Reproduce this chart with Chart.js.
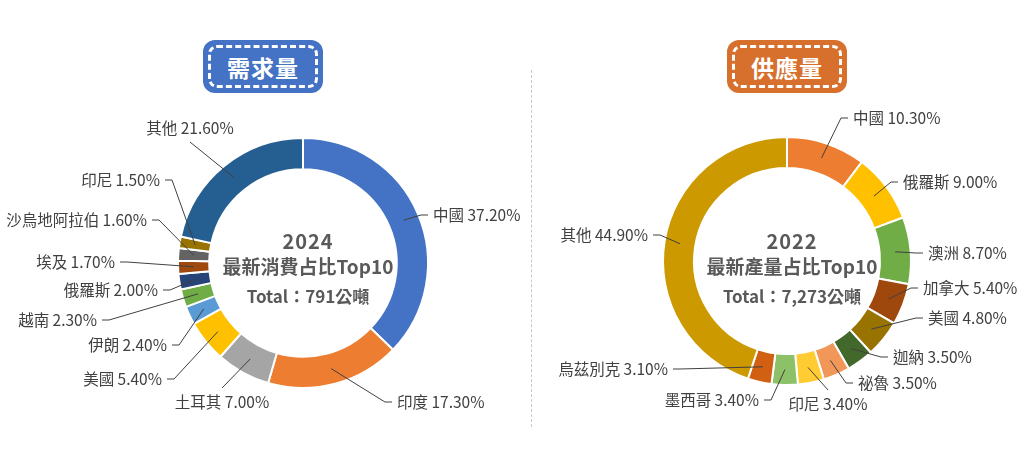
<!DOCTYPE html>
<html>
<head>
<meta charset="utf-8">
<script src="https://cdn.jsdelivr.net/npm/chart.js@4.4.1/dist/chart.umd.min.js"></script>
<style>
  html, body { margin: 0; padding: 0; background: #fff; }
  #wrap { position: relative; width: 1024px; height: 462px; overflow: hidden; font-family: "Noto Sans CJK TC", "Noto Sans", sans-serif; }
  canvas { position: absolute; top: 0; }
  #demandChart { left: 0; }
  #supplyChart { left: 512px; }
  .badge {
    position: absolute; top: 40px; width: 120px; height: 53px; border-radius: 12px;
    color: #fff; font-weight: bold; font-size: 23px; letter-spacing: 1px;
    display: flex; align-items: center; justify-content: center; box-sizing: border-box;
  }
  .badge::after {
    content: ""; position: absolute; left: 5px; top: 5px; right: 5px; bottom: 5px;
    border: 3px dashed #fff; border-radius: 9px;
  }
  #badgeDemand { left: 203px; background: #4472C4; }
  #badgeSupply { left: 727px; background: #D7702D; }
  #divider { position: absolute; left: 531px; top: 70px; height: 357px; border-left: 1px dashed #c8c8c8; }
</style>
</head>
<body>
<div id="wrap">
  <canvas id="demandChart" width="560" height="462"></canvas>
  <canvas id="supplyChart" width="512" height="462"></canvas>
  <div id="divider"></div>
  <div class="badge" id="badgeDemand">需求量</div>
  <div class="badge" id="badgeSupply">供應量</div>
</div>
<script>
// 需求量 (2024 消費)
const demandLabels = ["中國", "印度", "土耳其", "美國", "伊朗", "越南", "俄羅斯", "埃及", "沙烏地阿拉伯", "印尼", "其他"];
const demandValues = [37.2, 17.3, 7.0, 5.4, 2.4, 2.3, 2.0, 1.7, 1.6, 1.5, 21.6];
const demandColors = ["#4472C4", "#ED7D31", "#A5A5A5", "#FFC000", "#5B9BD5", "#70AD47", "#264478", "#9E480E", "#636363", "#997300", "#255E91"];
const demandCenter = ["2024", "最新消費占比Top10", "Total：791公噸"];

// 供應量 (2022 產量)
const supplyLabels = ["中國", "俄羅斯", "澳洲", "加拿大", "美國", "迦納", "祕魯", "印尼", "墨西哥", "烏茲別克", "其他"];
const supplyValues = [10.3, 9.0, 8.7, 5.4, 4.8, 3.5, 3.5, 3.4, 3.4, 3.1, 44.9];
const supplyColors = ["#ED7D31", "#FFC000", "#70AD47", "#9E480E", "#997300", "#43682B", "#F1975A", "#FFCD33", "#8CC168", "#D26012", "#CC9900"];
const supplyCenter = ["2022", "最新產量占比Top10", "Total：7,273公噸"];

// where each label sits: [x, y, side]  l = text to the right, r = text to the left,
// t = above the ring, b = below the ring
const demandSpots = [[433, 215, "l"], [397, 402, "l"], [222, 402, "b"], [162, 379, "r"], [167, 345, "r"], [97, 320, "r"],
                     [158, 290, "r"], [115, 262, "r"], [147, 220, "r"], [160, 180, "r"], [190, 128, "t"]];
const supplySpots = [[341, 118, "l"], [391, 182, "l"], [416, 253, "l"], [411, 288, "l"], [416, 318, "l"], [381, 357, "l"],
                     [346, 383, "l"], [316, 404, "b"], [247, 400, "r"], [156, 369, "r"], [136, 235, "r"]];

const CJK = "'Noto Sans CJK TC', 'Noto Sans', sans-serif";

const leaderLabels = {
  id: "leaderLabels",
  afterDraw(chart, args, opts) {
    const ctx = chart.ctx;
    const arcs = chart.getDatasetMeta(0).data;
    const cats = chart.data.labels;
    const vals = chart.data.datasets[0].data;
    ctx.save();
    ctx.font = "15.5px " + CJK;
    ctx.fillStyle = "#404040";
    ctx.strokeStyle = "#404040";
    ctx.lineWidth = 1;
    ctx.textBaseline = "middle";

    arcs.forEach((arc, i) => {
      const p = arc.tooltipPosition(true);
      const [x, y, side] = opts.spots[i];
      const text = cats[i] + " " + vals[i].toFixed(2) + "%";
      ctx.beginPath();
      if (side === "l") {
        ctx.textAlign = "left";
        ctx.moveTo(x - 5, y); ctx.lineTo(x - 12, y); ctx.lineTo(p.x, p.y);
      } else if (side === "r") {
        ctx.textAlign = "right";
        ctx.moveTo(x + 5, y); ctx.lineTo(x + 12, y); ctx.lineTo(p.x, p.y);
      } else if (side === "t") {
        ctx.textAlign = "center";
        ctx.moveTo(x, y + 14); ctx.lineTo(p.x, p.y);
      } else {
        ctx.textAlign = "center";
        ctx.moveTo(x, y - 14); ctx.lineTo(p.x, p.y);
      }
      ctx.stroke();
      ctx.fillText(text, x, y);
    });

    // center block, sits a little right of the ring centre like the original
    const cx = (chart.chartArea.left + chart.chartArea.right) / 2 + 5;
    ctx.textAlign = "center";
    ctx.fillStyle = "#595959";
    ctx.font = "bold 20px " + CJK;
    ctx.letterSpacing = "1px";
    ctx.fillText(opts.center[0], cx, 241);
    ctx.letterSpacing = "0px";
    ctx.font = "bold 19px " + CJK;
    ctx.fillText(opts.center[1], cx, 267);
    ctx.font = "bold 17px " + CJK;
    ctx.fillText(opts.center[2], cx, 297);
    ctx.restore();
  }
};

function makeDonut(id, labels, values, colors, spots, center, padding) {
  return new Chart(document.getElementById(id), {
    type: "doughnut",
    data: {
      labels: labels,
      datasets: [{
        data: values,
        backgroundColor: colors,
        borderColor: "#ffffff",
        borderWidth: 2
      }]
    },
    options: {
      responsive: false,
      animation: false,
      cutout: "75%",
      layout: { padding: padding },
      plugins: {
        legend: { display: false },
        tooltip: { enabled: false },
        leaderLabels: { spots: spots, center: center }
      }
    },
    plugins: [leaderLabels]
  });
}

makeDonut("demandChart", demandLabels, demandValues, demandColors, demandSpots, demandCenter,
  { left: 177, right: 131, top: 137, bottom: 73 });
makeDonut("supplyChart", supplyLabels, supplyValues, supplyColors, supplySpots, supplyCenter,
  { left: 150, right: 112, top: 136, bottom: 76 });
</script>
</body>
</html>
